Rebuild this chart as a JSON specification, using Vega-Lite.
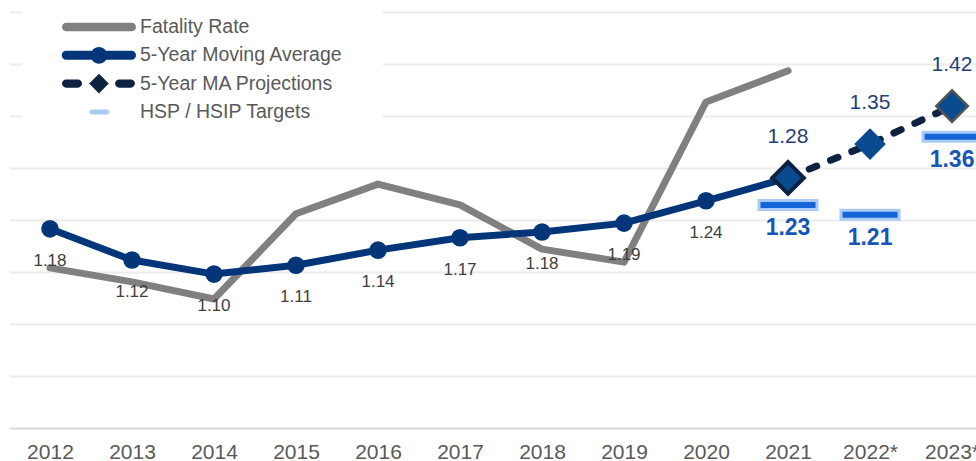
{
  "$schema": "https://vega.github.io/schema/vega-lite/v6.json",
  "width": 967,
  "height": 416,
  "autosize": {"type": "none"},
  "padding": {"left": 9, "top": 12, "right": 0, "bottom": 33},
  "background": "white",
  "config": {
    "view": {"stroke": null},
    "font": "Liberation Sans"
  },
  "data": {
    "values": [
      {"year": "2012", "series": "Fatality Rate", "value": 1.108},
      {"year": "2013", "series": "Fatality Rate", "value": 1.081},
      {"year": "2014", "series": "Fatality Rate", "value": 1.048},
      {"year": "2015", "series": "Fatality Rate", "value": 1.212},
      {"year": "2016", "series": "Fatality Rate", "value": 1.269},
      {"year": "2017", "series": "Fatality Rate", "value": 1.229},
      {"year": "2018", "series": "Fatality Rate", "value": 1.144},
      {"year": "2019", "series": "Fatality Rate", "value": 1.119},
      {"year": "2020", "series": "Fatality Rate", "value": 1.427},
      {"year": "2021", "series": "Fatality Rate", "value": 1.487},
      {"year": "2012", "series": "5-Year Moving Average", "value": 1.183},
      {"year": "2013", "series": "5-Year Moving Average", "value": 1.123},
      {"year": "2014", "series": "5-Year Moving Average", "value": 1.096},
      {"year": "2015", "series": "5-Year Moving Average", "value": 1.113},
      {"year": "2016", "series": "5-Year Moving Average", "value": 1.142},
      {"year": "2017", "series": "5-Year Moving Average", "value": 1.166},
      {"year": "2018", "series": "5-Year Moving Average", "value": 1.177},
      {"year": "2019", "series": "5-Year Moving Average", "value": 1.194},
      {"year": "2020", "series": "5-Year Moving Average", "value": 1.237},
      {"year": "2021", "series": "5-Year Moving Average", "value": 1.281},
      {"year": "2021", "series": "5-Year MA Projections", "value": 1.281},
      {"year": "2022*", "series": "5-Year MA Projections", "value": 1.346},
      {"year": "2023*", "series": "5-Year MA Projections", "value": 1.419},
      {"year": "2021", "series": "HSP / HSIP Targets", "value": 1.229},
      {"year": "2022*", "series": "HSP / HSIP Targets", "value": 1.21},
      {"year": "2023*", "series": "HSP / HSIP Targets", "value": 1.36}
    ]
  },
  "encoding": {
    "x": {
      "field": "year",
      "type": "nominal",
      "scale": {
        "type": "point",
        "domain": ["2012", "2013", "2014", "2015", "2016", "2017", "2018", "2019", "2020", "2021", "2022*", "2023*"],
        "padding": 0.396,
        "align": 0.631
      },
      "axis": {
        "title": null,
        "labelAngle": 0,
        "labelFontSize": 21,
        "labelColor": "#595959",
        "labelPadding": 13,
        "ticks": false,
        "domainColor": "#d9d9d9",
        "domainWidth": 2,
        "grid": false,
        "labelOverlap": false,
        "labelBound": false
      }
    },
    "y": {
      "field": "value",
      "type": "quantitative",
      "scale": {"domain": [0.8, 1.6], "nice": false, "zero": false},
      "axis": {
        "title": null,
        "labels": false,
        "ticks": false,
        "domain": false,
        "grid": true,
        "gridColor": "#ececec",
        "gridWidth": 2,
        "values": [0.9, 1.0, 1.1, 1.2, 1.3, 1.4, 1.5, 1.6]
      }
    }
  },
  "layer": [
    {
      "transform": [{"filter": "datum.series === 'Fatality Rate'"}],
      "mark": {"type": "line", "color": "#808080", "strokeWidth": 7, "strokeCap": "round", "strokeJoin": "round"}
    },
    {
      "transform": [{"filter": "datum.series === '5-Year Moving Average'"}],
      "mark": {"type": "line", "color": "#023679", "strokeWidth": 7, "strokeJoin": "round"}
    },
    {
      "transform": [{"filter": "datum.series === '5-Year Moving Average' && datum.year !== '2021'"}],
      "mark": {"type": "point", "shape": "circle", "filled": true, "opacity": 1, "color": "#023679", "size": 310}
    },
    {
      "transform": [{"filter": "datum.series === '5-Year MA Projections'"}],
      "mark": {"type": "line", "color": "#0d2240", "strokeWidth": 7, "strokeDash": [8, 15], "strokeCap": "round"}
    },
    {
      "transform": [{"filter": "datum.series === 'HSP / HSIP Targets'"}],
      "mark": {"type": "tick", "orient": "horizontal", "size": 58, "thickness": 9, "color": "#1565d8", "stroke": "#a9cbf5", "strokeWidth": 3, "opacity": 1}
    },
    {
      "transform": [{"filter": "datum.series === '5-Year MA Projections'"}],
      "mark": {"type": "point", "shape": "diamond", "filled": true, "opacity": 1, "fill": "#0a4b8f", "size": 1000},
      "encoding": {
        "stroke": {
          "condition": [
            {"test": "datum.year === '2021'", "value": "#0d2240"},
            {"test": "datum.year === '2022*'", "value": "#0a4b8f"}
          ],
          "value": "#555555"
        },
        "strokeWidth": {
          "condition": [
            {"test": "datum.year === '2021'", "value": 4},
            {"test": "datum.year === '2022*'", "value": 0}
          ],
          "value": 2.5
        }
      }
    },
    {
      "transform": [{"filter": "datum.series === '5-Year Moving Average' && datum.year !== '2021'"}],
      "mark": {"type": "text", "dy": 32, "fontSize": 17, "color": "#404040"},
      "encoding": {"text": {"field": "value", "type": "quantitative", "format": ".2f"}}
    },
    {
      "transform": [{"filter": "datum.series === '5-Year MA Projections'"}],
      "mark": {"type": "text", "dy": -41, "fontSize": 21, "color": "#1f3f75"},
      "encoding": {"text": {"field": "value", "type": "quantitative", "format": ".2f"}}
    },
    {
      "transform": [{"filter": "datum.series === 'HSP / HSIP Targets'"}],
      "mark": {"type": "text", "dy": 23, "fontSize": 23, "fontWeight": "bold", "color": "#1656b6"},
      "encoding": {"text": {"field": "value", "type": "quantitative", "format": ".2f"}}
    },
    {
      "mark": {"type": "point", "filled": true, "opacity": 0},
      "encoding": {
        "color": {
          "field": "series",
          "type": "nominal",
          "scale": {
            "domain": ["Fatality Rate", "5-Year Moving Average", "5-Year MA Projections", "HSP / HSIP Targets"],
            "range": ["#808080", "#023679", "#0d2240", "#a9cbf5"]
          },
          "legend": {
            "title": null,
            "orient": "none",
            "legendX": 13,
            "legendY": -39,
            "fillColor": "white",
            "padding": 40,
            "symbolSize": 784,
            "symbolStrokeWidth": 0,
            "symbolOpacity": 1,
            "labelFont": "Liberation Sans",
            "labelFontSize": 19.5,
            "labelColor": "#595959",
            "labelOffset": 50,
            "labelLimit": 400,
            "rowPadding": 4.3
          }
        },
        "shape": {
          "field": "series",
          "type": "nominal",
          "scale": {
            "domain": ["Fatality Rate", "5-Year Moving Average", "5-Year MA Projections", "HSP / HSIP Targets"],
            "range": [
              "M-0.7,-0.3 H3.986 A0.3,0.3 0 0 1 3.986,0.3 H-0.7 A0.3,0.3 0 0 1 -0.7,-0.3 Z",
              "M-0.7,-0.32 H3.966 A0.32,0.32 0 0 1 3.966,0.32 H-0.7 A0.32,0.32 0 0 1 -0.7,-0.32 Z M1.043,0 A0.6,0.6 0 1 1 2.243,0 A0.6,0.6 0 1 1 1.043,0 Z",
              "M-0.71,-0.29 H0.14 A0.29,0.29 0 0 1 0.14,0.29 H-0.71 A0.29,0.29 0 0 1 -0.71,-0.29 Z M1.64,-0.7 L2.34,0 L1.64,0.7 L0.94,0 Z M3.08,-0.29 H3.92 A0.29,0.29 0 0 1 3.92,0.29 H3.08 A0.29,0.29 0 0 1 3.08,-0.29 Z",
              "M1.14,-0.18 H2.2 A0.18,0.18 0 0 1 2.2,0.18 H1.14 A0.18,0.18 0 0 1 1.14,-0.18 Z"
            ]
          },
          "legend": null
        }
      }
    }
  ]
}
